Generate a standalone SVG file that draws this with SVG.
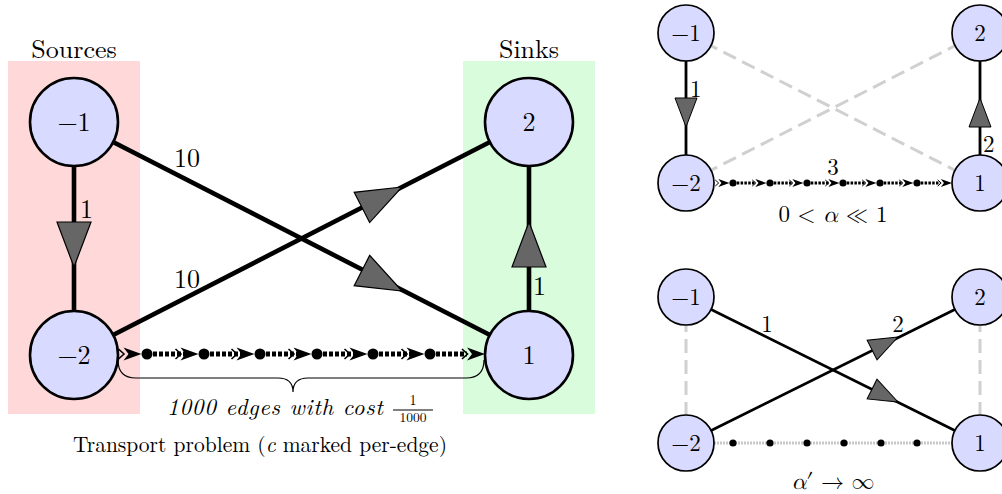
<svg xmlns="http://www.w3.org/2000/svg" width="1002" height="494" viewBox="0 0 1002 494" font-family="Latin Modern Roman, Liberation Serif, serif">
<style>
.big{font-size:26px}
.sm{font-size:23px}
.nodeL{fill:#d9daff;stroke:#000;stroke-width:2.6}
.nodeS{fill:#d9daff;stroke:#000;stroke-width:1.7}
.thick{stroke:#000;stroke-width:4.6;fill:none}
.thin{stroke:#000;stroke-width:2.8;fill:none}
.gdash{stroke:#d0d0d0;stroke-width:3;stroke-dasharray:14 7;fill:none}
.chainL{stroke:#000;stroke-width:5;stroke-dasharray:4 2;fill:none}
.chainS{stroke:#000;stroke-width:3;stroke-dasharray:2.5 1.3;fill:none}
.chainG{stroke:#c8c8c8;stroke-width:3;stroke-dasharray:2 1;fill:none}
.it{font-style:italic}
</style>
<defs>
<path id="bt" d="M0,0 L-45,-17 L-45,17 Z" fill="#666" stroke="#000" stroke-width="1.2"/>
<path id="st" d="M0,0 L-29,-11 L-29,11 Z" fill="#666" stroke="#000" stroke-width="1"/>
<g id="ca">
<path d="M0,0 L-18,-6.5 L-13,0 L-18,6.5 Z" fill="#000"/>
<path d="M-23,-5 L-17.5,0 L-23,5" fill="none" stroke="#000" stroke-width="1.6"/>
</g>
</defs>

<!-- backgrounds -->
<rect x="8" y="61" width="132" height="353" fill="#ffd9d9"/>
<rect x="463" y="61" width="132" height="353" fill="#d9fcdc"/>
<text class="big" x="74" y="58" text-anchor="middle">Sources</text>
<text class="big" x="529" y="58" text-anchor="middle">Sinks</text>

<g id="connectors">
<!-- left diagram -->
<line class="thick" x1="74" y1="122" x2="74" y2="355"/>
<line class="thick" x1="529" y1="122" x2="529" y2="355"/>
<line class="thick" x1="74" y1="122" x2="529" y2="355"/>
<line class="thick" x1="74" y1="355" x2="529" y2="122"/>
<use href="#bt" transform="translate(74,267) rotate(90)"/>
<use href="#bt" transform="translate(529,222) rotate(-90)"/>
<use href="#bt" transform="translate(402,291) rotate(27.1)"/>
<use href="#bt" transform="translate(402,187) rotate(-27.0)"/>
<!-- chain -->
<path class="chainL" d="M147,354 H186 M204,354 H242 M260,354 H299 M317,354 H355 M373,354 H412 M430,354 H467"/>
<use href="#ca" transform="translate(141.5,354)"/>
<use href="#ca" transform="translate(198.5,354)"/>
<use href="#ca" transform="translate(254.5,354)"/>
<use href="#ca" transform="translate(311.5,354)"/>
<use href="#ca" transform="translate(367.5,354)"/>
<use href="#ca" transform="translate(424.5,354)"/>
<use href="#ca" transform="translate(485,354)"/>
<g fill="#000">
<circle cx="147" cy="354" r="5.5"/><circle cx="204" cy="354" r="5.5"/><circle cx="260" cy="354" r="5.5"/>
<circle cx="317" cy="354" r="5.5"/><circle cx="373" cy="354" r="5.5"/><circle cx="430" cy="354" r="5.5"/>
</g>
<path d="M118,360 Q118,378 136,378 L278,378 Q293,378 293,392 Q293,378 308,378 L466,378 Q484,378 484,360" fill="none" stroke="#000" stroke-width="1.2"/>

<!-- top right -->
<line class="gdash" x1="686" y1="33" x2="980" y2="183"/>
<line class="gdash" x1="686" y1="183" x2="980" y2="33"/>
<line class="thin" x1="686" y1="33" x2="686" y2="183"/>
<line class="thin" x1="980" y1="33" x2="980" y2="183"/>
<use href="#st" transform="translate(686,127) rotate(90)"/>
<use href="#st" transform="translate(980,98) rotate(-90)"/>
<path class="chainS" d="M733,183 H756 M770,183 H793 M807,183 H829 M843,183 H866 M880,183 H903 M917,183 H940"/>
<use href="#ca" transform="translate(729.5,183) scale(0.62)"/>
<use href="#ca" transform="translate(766.5,183) scale(0.62)"/>
<use href="#ca" transform="translate(803.5,183) scale(0.62)"/>
<use href="#ca" transform="translate(839.5,183) scale(0.62)"/>
<use href="#ca" transform="translate(876.5,183) scale(0.62)"/>
<use href="#ca" transform="translate(913.5,183) scale(0.62)"/>
<use href="#ca" transform="translate(952,183) scale(0.62)"/>
<g fill="#000">
<circle cx="733" cy="183" r="3.6"/><circle cx="770" cy="183" r="3.6"/><circle cx="807" cy="183" r="3.6"/>
<circle cx="843" cy="183" r="3.6"/><circle cx="880" cy="183" r="3.6"/><circle cx="917" cy="183" r="3.6"/>
</g>

<!-- bottom right -->
<line class="gdash" x1="686" y1="297" x2="686" y2="443"/>
<line class="gdash" x1="980" y1="297" x2="980" y2="443"/>
<line class="chainG" x1="714" y1="443" x2="952" y2="443"/>
<line class="thin" x1="686" y1="297" x2="980" y2="443"/>
<line class="thin" x1="686" y1="443" x2="980" y2="297"/>
<use href="#st" transform="translate(898,337) rotate(-26.6)"/>
<use href="#st" transform="translate(898,402) rotate(26.5)"/>
<g fill="#000">
<circle cx="733" cy="443" r="3.6"/><circle cx="770" cy="443" r="3.6"/><circle cx="807" cy="443" r="3.6"/>
<circle cx="844" cy="443" r="3.6"/><circle cx="881" cy="443" r="3.6"/><circle cx="917" cy="443" r="3.6"/>
</g>
</g>

<!-- edge labels left -->
<text class="big" x="80" y="218">1</text>
<text class="big" x="533" y="295">1</text>
<text class="big" x="187" y="167" text-anchor="middle">10</text>
<text class="big" x="187" y="288" text-anchor="middle">10</text>

<!-- left nodes -->
<g id="nL-1"><circle class="nodeL" cx="74" cy="122" r="44"/><text class="big" x="74" y="131" text-anchor="middle">−1</text></g>
<g id="nL-2"><circle class="nodeL" cx="74" cy="355" r="44"/><text class="big" x="74" y="364" text-anchor="middle">−2</text></g>
<g id="nL2"><circle class="nodeL" cx="529" cy="122" r="44"/><text class="big" x="529" y="131" text-anchor="middle">2</text></g>
<g id="nL1"><circle class="nodeL" cx="529" cy="355" r="44"/><text class="big" x="529" y="364" text-anchor="middle">1</text></g>

<text class="it" x="167" y="415" font-size="23" textLength="216" lengthAdjust="spacing">1000 edges with cost</text>
<text x="413" y="405" font-size="14" text-anchor="middle">1</text>
<line x1="393" y1="410" x2="433" y2="410" stroke="#000" stroke-width="1"/>
<text x="413" y="422" font-size="13.5" text-anchor="middle">1000</text>
<text x="260" y="452" font-size="21.5" text-anchor="middle">Transport problem (<tspan class="it">c</tspan> marked per-edge)</text>

<!-- top right nodes & labels -->
<g id="nA-1"><circle class="nodeS" cx="686" cy="33" r="28"/><text class="sm" x="686" y="41" text-anchor="middle">−1</text></g>
<g id="nA2"><circle class="nodeS" cx="980" cy="33" r="28"/><text class="sm" x="980" y="41" text-anchor="middle">2</text></g>
<g id="nA-2"><circle class="nodeS" cx="686" cy="183" r="28"/><text class="sm" x="686" y="191" text-anchor="middle">−2</text></g>
<g id="nA1"><circle class="nodeS" cx="980" cy="183" r="28"/><text class="sm" x="980" y="191" text-anchor="middle">1</text></g>
<text class="sm" x="690" y="97">1</text>
<text class="sm" x="983" y="152">2</text>
<text class="sm" x="833" y="175" text-anchor="middle">3</text>
<text class="sm" x="833" y="222" text-anchor="middle" font-family="Latin Modern Math, Latin Modern Roman, DejaVu Serif, serif">0 &lt; <tspan class="it">α</tspan> ≪ 1</text>

<!-- bottom right nodes & labels -->
<g id="nB-1"><circle class="nodeS" cx="686" cy="297" r="28"/><text class="sm" x="686" y="305" text-anchor="middle">−1</text></g>
<g id="nB2"><circle class="nodeS" cx="980" cy="297" r="28"/><text class="sm" x="980" y="305" text-anchor="middle">2</text></g>
<g id="nB-2"><circle class="nodeS" cx="686" cy="443" r="28"/><text class="sm" x="686" y="451" text-anchor="middle">−2</text></g>
<g id="nB1"><circle class="nodeS" cx="980" cy="443" r="28"/><text class="sm" x="980" y="451" text-anchor="middle">1</text></g>
<text class="sm" x="767" y="332" text-anchor="middle">1</text>
<text class="sm" x="898" y="332" text-anchor="middle">2</text>
<text class="sm" x="833" y="489" text-anchor="middle" font-family="Latin Modern Math, Latin Modern Roman, DejaVu Serif, serif"><tspan class="it">α</tspan>′ → ∞</text>
</svg>
